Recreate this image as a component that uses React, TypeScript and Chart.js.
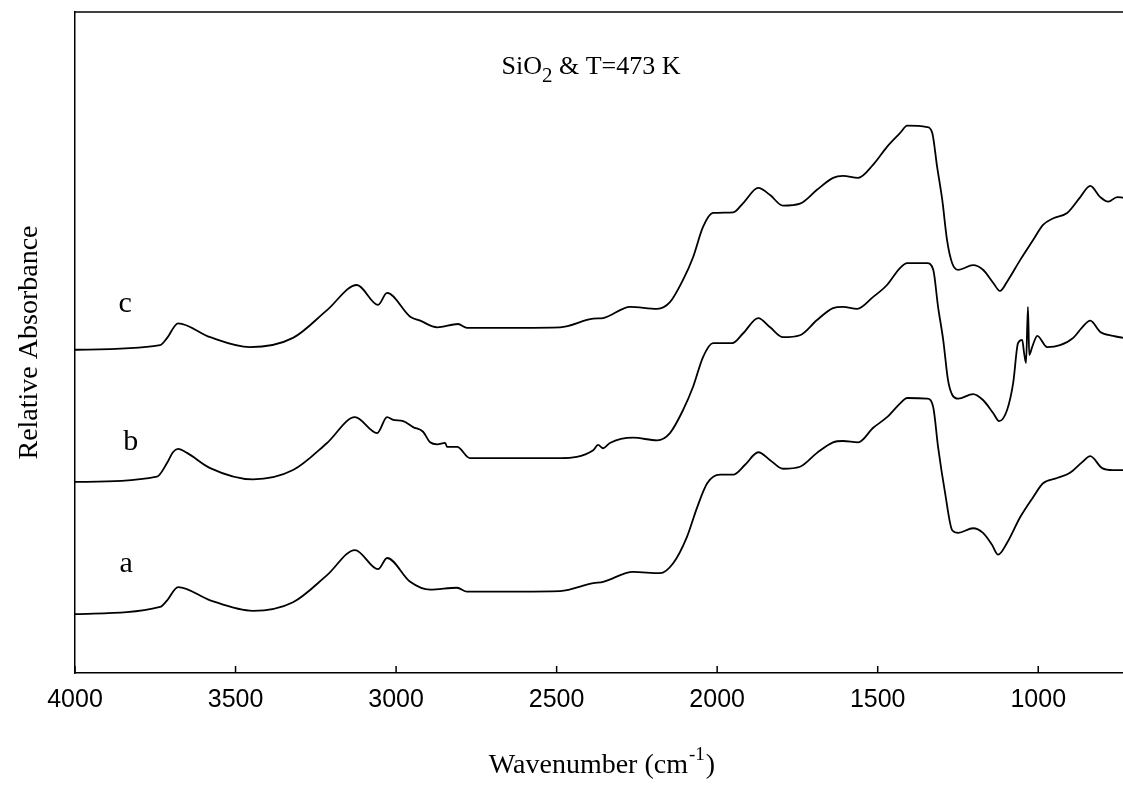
import React, { useEffect, useRef } from 'react';
import { Chart, registerables } from 'chart.js';

Chart.register(...registerables);

// X axis tick labels (wavenumber, cm-1)
const xTicks = [4000, 3500, 3000, 2500, 2000, 1500, 1000];
const xMin = 736;
const xMax = 4000;

// Spectrum a
const waveA = [4000, 3735, 3713, 3679, 3579, 3446, 3321, 3215, 3128, 3056, 3028, 2956, 2894, 2810, 2779, 2489, 2386, 2355, 2262, 2178, 2137, 2094, 2062, 2031, 1991, 1950, 1913, 1872, 1835, 1795, 1742, 1689, 1639, 1608, 1561, 1514, 1471, 1430, 1408, 1346, 1327, 1312, 1290, 1268, 1249, 1203, 1172, 1144, 1125, 1097, 1056, 1016, 985, 941, 901, 863, 838, 801, 767, 736];
const absA = [8.9, 10.0, 11.0, 13.0, 11.0, 9.4, 10.7, 14.8, 18.6, 15.7, 17.4, 13.8, 12.6, 12.9, 12.3, 12.4, 13.6, 13.8, 15.3, 15.1, 16.6, 20.6, 25.1, 28.7, 30.0, 30.0, 31.5, 33.4, 32.2, 30.9, 31.2, 33.3, 34.9, 35.1, 34.9, 37.1, 38.7, 40.8, 41.6, 41.5, 40.2, 34.2, 27.2, 21.6, 21.2, 21.9, 21.2, 19.4, 17.9, 19.7, 23.6, 26.6, 28.7, 29.5, 30.3, 31.9, 32.8, 31.0, 30.7, 30.7];

// Spectrum b
const waveB = [4000, 3745, 3713, 3695, 3679, 3651, 3579, 3446, 3321, 3215, 3128, 3059, 3028, 3009, 2978, 2947, 2916, 2894, 2872, 2847, 2841, 2810, 2770, 2489, 2386, 2371, 2355, 2334, 2262, 2187, 2147, 2106, 2075, 2044, 2013, 1953, 1919, 1872, 1835, 1795, 1742, 1689, 1639, 1608, 1564, 1514, 1471, 1430, 1408, 1346, 1327, 1312, 1296, 1281, 1268, 1249, 1203, 1172, 1140, 1122, 1097, 1078, 1063, 1050, 1044, 1038, 1032, 1028, 1019, 1003, 972, 932, 891, 863, 838, 807, 767, 736];
const absB = [28.9, 29.7, 31.8, 33.4, 33.9, 33.3, 31.0, 29.3, 30.7, 34.8, 38.7, 36.3, 38.7, 38.3, 38.1, 37.2, 36.5, 34.9, 34.6, 34.8, 34.2, 34.2, 32.5, 32.5, 33.7, 34.5, 34.0, 34.8, 35.6, 35.2, 36.3, 39.8, 43.3, 47.8, 49.9, 49.9, 51.4, 53.7, 52.3, 50.8, 51.1, 53.4, 55.2, 55.4, 55.1, 56.9, 58.7, 61.3, 62.0, 62.0, 61.0, 55.4, 50.4, 44.3, 42.1, 41.5, 42.2, 41.3, 39.3, 38.1, 39.8, 43.9, 49.9, 50.4, 48.4, 46.9, 55.4, 48.1, 49.3, 51.0, 49.3, 49.6, 50.7, 52.3, 53.3, 51.6, 51.0, 50.7];

// Spectrum c
const waveC = [4000, 3735, 3713, 3679, 3579, 3455, 3321, 3215, 3122, 3056, 3028, 2956, 2925, 2872, 2807, 2779, 2489, 2386, 2355, 2271, 2187, 2147, 2106, 2075, 2044, 2013, 1950, 1919, 1872, 1835, 1795, 1742, 1689, 1639, 1608, 1561, 1514, 1471, 1430, 1408, 1346, 1330, 1315, 1299, 1284, 1268, 1249, 1203, 1172, 1140, 1119, 1097, 1056, 1016, 985, 953, 910, 869, 838, 807, 782, 754, 736];
const absC = [48.9, 49.6, 50.7, 52.9, 50.8, 49.3, 50.7, 54.9, 58.7, 55.7, 57.5, 53.9, 53.3, 52.3, 52.8, 52.2, 52.3, 53.6, 53.7, 55.4, 55.1, 56.1, 59.5, 62.9, 67.5, 69.6, 69.7, 71.1, 73.4, 72.3, 70.7, 71.0, 73.1, 74.9, 75.2, 74.9, 76.9, 79.6, 81.7, 82.8, 82.6, 81.7, 76.6, 71.6, 65.5, 62.0, 61.0, 61.7, 61.0, 59.0, 57.8, 59.2, 62.5, 65.5, 67.8, 68.8, 69.6, 72.0, 73.7, 72.0, 71.3, 72.0, 71.9];

// Curve labels and their anchor (wavenumber, absorbance)
const curveLabels = ['a', 'b', 'c'];
const labelWave = [3841, 3826, 3844];
const labelAbs = [15.3, 33.7, 54.6];

const chartTitleMain = 'SiO';
const chartTitleSub = '2';
const chartTitleRest = ' & T=473 K';
const xTitleMain = 'Wavenumber (cm';
const xTitleSup = '-1';
const xTitleEnd = ')';
const yTitle = 'Relative Absorbance';

const toPoints = (w: number[], a: number[]) => w.map((x, i) => ({ x, y: a[i] }));

const decorPlugin = {
  id: 'decor',
  afterDraw(chart: any) {
    const { ctx, chartArea, scales } = chart;
    const xs = scales.x;
    const ys = scales.y;
    ctx.save();
    ctx.strokeStyle = '#000';
    ctx.lineWidth = 1.5;
    // top frame line
    ctx.beginPath();
    ctx.moveTo(chartArea.left, chartArea.top);
    ctx.lineTo(chartArea.right, chartArea.top);
    ctx.stroke();
    // inward tick marks
    xTicks.forEach((v) => {
      const px = xs.getPixelForValue(v);
      ctx.beginPath();
      ctx.moveTo(px, chartArea.bottom);
      ctx.lineTo(px, chartArea.bottom - 7);
      ctx.stroke();
    });
    ctx.fillStyle = '#000';
    // curve labels
    ctx.font = '30px "Liberation Serif"';
    ctx.textAlign = 'center';
    ctx.textBaseline = 'alphabetic';
    curveLabels.forEach((t, i) => {
      ctx.fillText(t, xs.getPixelForValue(labelWave[i]), ys.getPixelForValue(labelAbs[i]));
    });
    // chart title with subscript
    ctx.textAlign = 'left';
    const tFont = '26px "Liberation Serif"';
    const sFont = '21px "Liberation Serif"';
    ctx.font = tFont;
    const w1 = ctx.measureText(chartTitleMain).width;
    const w3 = ctx.measureText(chartTitleRest).width;
    ctx.font = sFont;
    const w2 = ctx.measureText(chartTitleSub).width;
    const tCenter = 591;
    let tx = tCenter - (w1 + w2 + w3) / 2;
    const tBase = chartArea.top + 62;
    ctx.font = tFont;
    ctx.fillText(chartTitleMain, tx, tBase);
    tx += w1;
    ctx.font = sFont;
    ctx.fillText(chartTitleSub, tx, tBase + 8);
    tx += w2;
    ctx.font = tFont;
    ctx.fillText(chartTitleRest, tx, tBase);
    // x axis title with superscript
    const xFont = '28px "Liberation Serif"';
    const supFont = '19px "Liberation Serif"';
    ctx.font = xFont;
    const a1 = ctx.measureText(xTitleMain).width;
    const a3 = ctx.measureText(xTitleEnd).width;
    ctx.font = supFont;
    const a2 = ctx.measureText(xTitleSup).width;
    const cx = (chartArea.left + chartArea.right) / 2 + 3;
    let ax = cx - (a1 + a2 + a3 + 2) / 2;
    const base = chartArea.bottom + 100;
    ctx.font = xFont;
    ctx.fillText(xTitleMain, ax, base);
    ax += a1 + 1;
    ctx.font = supFont;
    ctx.fillText(xTitleSup, ax, base - 13);
    ax += a2 + 1;
    ctx.font = xFont;
    ctx.fillText(xTitleEnd, ax, base);
    ctx.restore();
  },
};

export default function App() {
  const canvasRef = useRef<HTMLCanvasElement | null>(null);

  useEffect(() => {
    if (!canvasRef.current) return;
    const lineStyle = {
      borderColor: '#000',
      borderWidth: 1.8,
      pointRadius: 0,
      fill: false,
      cubicInterpolationMode: 'monotone' as const,
    };
    const chart = new Chart(canvasRef.current, {
      type: 'line',
      data: {
        datasets: [
          { label: 'a', data: toPoints(waveA, absA), ...lineStyle },
          { label: 'b', data: toPoints(waveB, absB), ...lineStyle },
          { label: 'c', data: toPoints(waveC, absC), ...lineStyle },
        ],
      },
      options: {
        animation: false,
        responsive: false,
        maintainAspectRatio: false,
        layout: { padding: { top: 12, right: 0, left: 0, bottom: 0 } },
        plugins: {
          legend: { display: false },
          tooltip: { enabled: false },
        },
        scales: {
          x: {
            type: 'linear',
            reverse: true,
            min: xMin,
            max: xMax,
            afterBuildTicks: (s: any) => {
              s.ticks = xTicks.map((v) => ({ value: v }));
            },
            afterFit: (s: any) => {
              s.height = 117;
            },
            ticks: {
              font: { family: 'Liberation Sans', size: 25 },
              color: '#000',
              padding: 4,
              maxRotation: 0,
              autoSkip: false,
              callback: (v: any) => String(v),
            },
            grid: { display: false },
            border: { display: true, color: '#000', width: 1.5 },
          },
          y: {
            type: 'linear',
            min: 0,
            max: 100,
            ticks: { display: false },
            grid: { display: false },
            border: { display: true, color: '#000', width: 1.5 },
            afterFit: (s: any) => {
              s.width = 75;
            },
            title: {
              display: true,
              text: yTitle,
              color: '#000',
              font: { family: 'Liberation Serif', size: 28 },
              padding: { top: 13, bottom: 0 },
            },
          },
        },
      },
      plugins: [decorPlugin],
    });
    return () => chart.destroy();
  }, []);

  return (
    <div style={{ position: 'absolute', left: 0, top: 0, width: 1123, height: 790, background: '#fff' }}>
      <canvas ref={canvasRef} width={1123} height={790} />
    </div>
  );
}
